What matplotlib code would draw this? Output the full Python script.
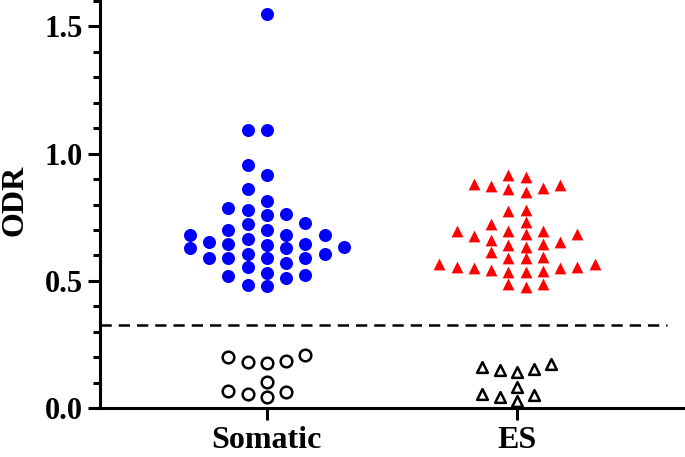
import matplotlib
matplotlib.use("Agg")
import matplotlib.pyplot as plt
import numpy as np
from matplotlib.ticker import MultipleLocator

# values
categories = ["Somatic", "ES"]
y_ticks = [0.0, 0.5, 1.0, 1.5]
y_ticklabels = ["0.0", "0.5", "1.0", "1.5"]

somatic_pos = [1.548, 1.094, 1.094, 0.954, 0.915, 0.861, 0.814, 0.785, 0.780,
               0.762, 0.757, 0.728, 0.722, 0.698, 0.698, 0.681, 0.681, 0.681,
               0.664, 0.652, 0.646, 0.646, 0.640, 0.634, 0.629, 0.629, 0.606,
               0.606, 0.588, 0.588, 0.588, 0.588, 0.571, 0.554, 0.530, 0.524,
               0.518, 0.513, 0.484, 0.478]
somatic_neg = [0.210, 0.200, 0.185, 0.180, 0.176, 0.101, 0.068, 0.062, 0.055, 0.042]

es_pos = [0.917, 0.909, 0.881, 0.875, 0.871, 0.866, 0.860, 0.850, 0.780, 0.776,
          0.732, 0.722, 0.694, 0.694, 0.694, 0.685, 0.685, 0.675, 0.660, 0.651,
          0.646, 0.642, 0.633, 0.613, 0.594, 0.589, 0.588, 0.568, 0.565, 0.556,
          0.555, 0.551, 0.551, 0.544, 0.538, 0.533, 0.533, 0.488, 0.488, 0.475]
es_neg = [0.173, 0.160, 0.154, 0.150, 0.143, 0.081, 0.055, 0.050, 0.043, 0.029]

cutoff = 0.327


def slot_layout(vals, gap):
    # greedy column packing, a bit like the prism scatter dot plot
    order = np.argsort(vals)
    slots = np.zeros(len(vals))
    used = {}
    tries = [0]
    for k in range(1, 20):
        tries += [-k, k]
    for i in order:
        v = vals[i]
        for s in tries:
            if all(abs(v - w) >= gap for w in used.get(s, [])):
                used.setdefault(s, []).append(v)
                slots[i] = s
                break
    slots -= (slots.min() + slots.max()) / 2.0
    return slots


fig = plt.figure(figsize=(6.85, 4.57), dpi=100)
ax = fig.add_axes([0.146, 0.107, 0.853, 0.891])

serif = "Liberation Serif"

groups = [
    (0, somatic_pos, 0.077, 0.05, dict(marker="o", s=88, color="#0000ff", linewidths=0)),
    (0, somatic_neg, 0.077, 0.05, dict(marker="o", s=70, facecolors="white", edgecolors="black", linewidths=1.8)),
    (1, es_pos, 0.069, 0.045, dict(marker="^", s=72, color="#ff0000", linewidths=0)),
    (1, es_neg, 0.069, 0.045, dict(marker="^", s=60, facecolors="white", edgecolors="black", linewidths=1.8)),
]
for xc, vals, step, gap, style in groups:
    vals = np.array(vals)
    xs = xc + slot_layout(vals, gap) * step
    ax.scatter(xs, vals, zorder=3, clip_on=False, **style)

ax.axhline(cutoff, xmin=0, xmax=0.971, color="black", lw=1.8, ls=(0, (4.5, 2.8)))

ax.set_xlim(-0.667, 1.669)
ax.set_ylim(0, 1.6)
ax.set_xticks([0, 1])
ax.set_xticklabels(categories, fontsize=23, fontweight="bold", family=serif)
ax.set_yticks(y_ticks)
ax.set_yticklabels(y_ticklabels, fontsize=22, fontweight="bold", family=serif)
ax.yaxis.set_minor_locator(MultipleLocator(0.1))
ax.set_ylabel("ODR", fontsize=23, fontweight="bold", family=serif)
ax.yaxis.set_label_coords(-0.121, 0.51)

for side in ["top", "right"]:
    ax.spines[side].set_visible(False)
for side in ["left", "bottom"]:
    ax.spines[side].set_linewidth(2.2)

ax.tick_params(axis="y", which="major", length=8.6, width=2.2, pad=3.5)
ax.tick_params(axis="y", which="minor", length=5, width=2.2)
ax.tick_params(axis="x", which="major", length=8.6, width=2.2, pad=4.5)

fig.savefig("out.png", dpi=100)
